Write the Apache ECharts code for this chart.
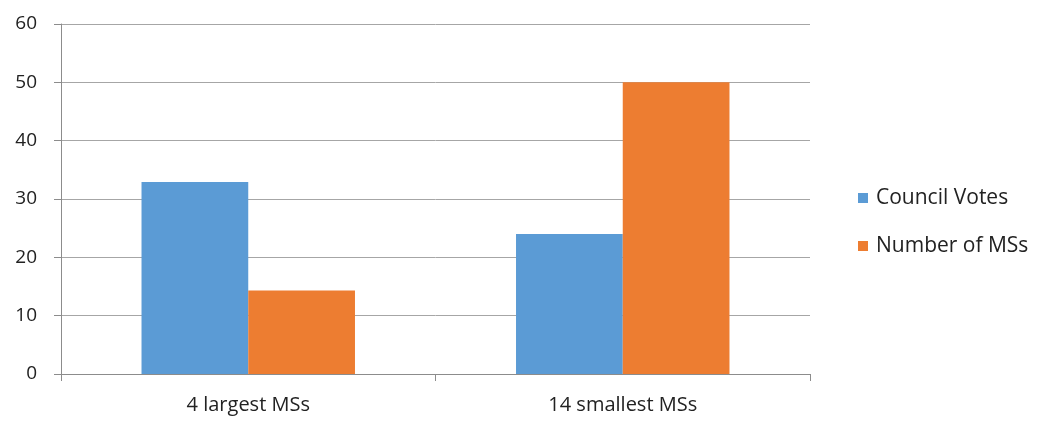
<!DOCTYPE html>
<html><head><meta charset="utf-8">
<script src="https://cdn.jsdelivr.net/npm/echarts@6/dist/echarts.min.js"></script>
<style>html,body{margin:0;padding:0;background:#fff}#c{width:1046px;height:421px}</style>
</head><body><div id="c"></div>
<script>
const categories = ['4 largest MSs', '14 smallest MSs'];
const councilVotes = [32.9, 24.0];
const numberOfMSs = [14.3, 50.0];
const seriesNames = ['Council Votes', 'Number of MSs'];
const yMin = 0, yMax = 60, yInterval = 10;

const chart = echarts.init(document.getElementById('c'));
const font = "'Open Sans', 'Liberation Sans', sans-serif";
chart.setOption({
  animation: false,
  grid: {left: 61, right: 236, top: 24, bottom: 47},
  legend: {
    orient: 'vertical', left: 853, top: 182, itemWidth: 10, itemHeight: 10, itemGap: 26,
    icon: 'rect',
    textStyle: {fontFamily: font, fontSize: 21, lineHeight: 22, color: '#222', padding: [0, 0, 0, 3]},
    data: seriesNames
  },
  xAxis: {
    type: 'category', data: categories,
    axisLine: {lineStyle: {color: '#8c8c8c'}},
    axisTick: {show: true, length: 7, lineStyle: {color: '#8c8c8c'}},
    axisLabel: {fontFamily: font, fontSize: 20, color: '#222', margin: 21}
  },
  yAxis: {
    type: 'value', min: yMin, max: yMax, interval: yInterval,
    axisLine: {show: true, lineStyle: {color: '#8c8c8c'}},
    axisTick: {show: true, length: 7, lineStyle: {color: '#8c8c8c'}},
    splitLine: {lineStyle: {color: '#a6a6a6'}},
    axisLabel: {fontFamily: font, fontSize: 19, color: '#222', margin: 24}
  },
  series: [
    {name: seriesNames[0], type: 'bar', data: councilVotes, itemStyle: {color: '#5B9BD5'}, barGap: '0%', barCategoryGap: '43%'},
    {name: seriesNames[1], type: 'bar', data: numberOfMSs, itemStyle: {color: '#ED7D31'}, barGap: '0%', barCategoryGap: '43%'}
  ]
});
</script></body></html>
